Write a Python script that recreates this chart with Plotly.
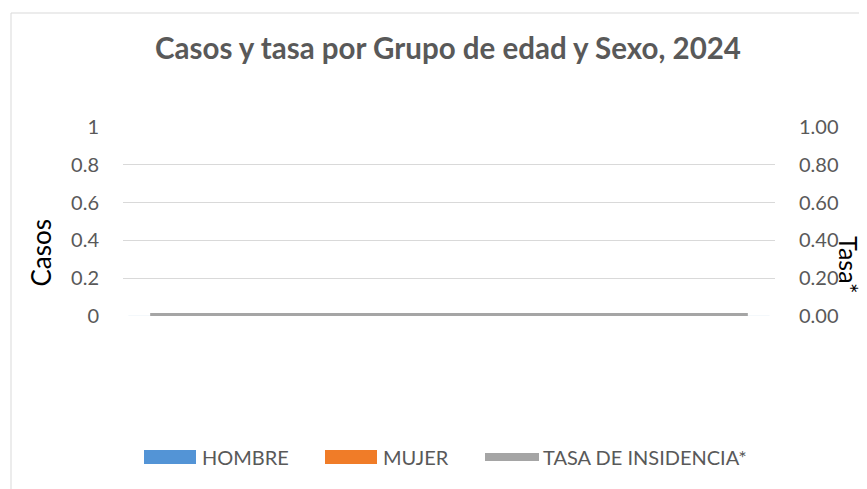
import plotly.graph_objects as go

categorias = ["<1", "1-4", "5-9", "10-14", "15-19", "20-24", "25-29",
              "30-39", "40-49", "50-59", "60-69", "70+"]
hombre = [0, 0, 0, 0, 0, 0, 0, 0, 0, 0, 0, 0]
mujer = [0, 0, 0, 0, 0, 0, 0, 0, 0, 0, 0, 0]
tasa = [0, 0, 0, 0, 0, 0, 0, 0, 0, 0, 0, 0]
ticks_casos = [0, 0.2, 0.4, 0.6, 0.8, 1]
ticks_casos_txt = ["0", "0.2", "0.4", "0.6", "0.8", "1"]
ticks_tasa = [0, 0.2, 0.4, 0.6, 0.8, 1.0]
ticks_tasa_txt = ["0.00", "0.20", "0.40", "0.60", "0.80", "1.00"]
series_nombres = ["HOMBRE", "MUJER", "TASA DE INSIDENCIA*"]

AZUL = "#5394D6"
NARANJA = "#F07C28"
GRIS = "#A5A5A5"
TXT = "#595959"
FONT = "Lato, Open Sans, sans-serif"

# the page adds an 8px body margin; work in page pixels and convert
OFF = 8
W, H = 867 - OFF, 489 - OFF
PL, PR, PT, PB = 123, 775, 127, 316          # plot area in page pixels
L, R, T, B = PL - OFF, W - (PR - OFF), PT - OFF, H - (PB - OFF)
pw, ph = W - L - R, H - T - B


def px_x(p):
    return (p - OFF - L) / pw


def px_y(p):
    return (H - B - (p - OFF)) / ph


fig = go.Figure()
fig.add_trace(go.Bar(x=categorias, y=hombre, name=series_nombres[0], marker_color=AZUL))
fig.add_trace(go.Bar(x=categorias, y=mujer, name=series_nombres[1], marker_color=NARANJA))
fig.add_trace(go.Scatter(x=categorias, y=tasa, name=series_nombres[2], yaxis="y2",
                         mode="lines", line=dict(color=GRIS, width=6), cliponaxis=False))

fig.update_layout(
    width=W, height=H,
    margin=dict(l=L, r=R, t=T, b=B, autoexpand=False),
    paper_bgcolor="white", plot_bgcolor="white",
    font=dict(family=FONT, color=TXT, size=16),
    title=dict(text="<b>Casos y tasa por Grupo de edad y Sexo, 2024</b>",
               x=px_x(448), xref="paper", xanchor="center",
               y=1 - (49 - OFF) / H, yanchor="middle",
               font=dict(size=29.5, color=TXT, family=FONT)),
    barmode="group",
    showlegend=False,
    xaxis=dict(showticklabels=False, showgrid=False, zeroline=False, showline=False,
               ticks=""),
    yaxis=dict(range=[0, 1], tickvals=ticks_casos, ticktext=ticks_casos_txt,
               showgrid=True, gridcolor="#D9D9D9", gridwidth=1, zeroline=False,
               showline=False, ticks="outside", ticklen=19, tickcolor="rgba(0,0,0,0)",
               tickfont=dict(size=20, color=TXT)),
    yaxis2=dict(range=[0, 1], overlaying="y", side="right", tickvals=ticks_tasa,
                ticktext=ticks_tasa_txt, showgrid=False, zeroline=False, showline=False,
                ticks="outside", ticklen=19, tickcolor="rgba(0,0,0,0)",
                tickfont=dict(size=20, color=TXT)),
)

# axis titles
fig.add_annotation(text="Casos", xref="paper", yref="paper", x=px_x(40.5), y=px_y(253),
                   textangle=-90, showarrow=False, font=dict(size=26, color="black"),
                   xanchor="center", yanchor="middle")
fig.add_annotation(text="Tasa*", xref="paper", yref="paper", x=px_x(849), y=px_y(265),
                   textangle=90, showarrow=False, font=dict(size=25, color="black"),
                   xanchor="center", yanchor="middle")

# legend (drawn to match the swatch sizes of the original)
ly = 457
fig.add_shape(type="rect", xref="paper", yref="paper", x0=px_x(144), x1=px_x(196),
              y0=px_y(464), y1=px_y(450), line=dict(width=0), fillcolor=AZUL)
fig.add_shape(type="rect", xref="paper", yref="paper", x0=px_x(325), x1=px_x(377),
              y0=px_y(464), y1=px_y(450), line=dict(width=0), fillcolor=NARANJA)
fig.add_shape(type="line", xref="paper", yref="paper", x0=px_x(485), x1=px_x(539),
              y0=px_y(ly), y1=px_y(ly), line=dict(width=8, color=GRIS))
for nombre, xt in zip(series_nombres, [200, 381, 541]):
    fig.add_annotation(text=nombre, xref="paper", yref="paper", x=px_x(xt), y=px_y(ly),
                       showarrow=False, xanchor="left", yanchor="middle",
                       font=dict(size=20, color=TXT))

# chart border
fig.add_shape(type="rect", xref="paper", yref="paper",
              x0=px_x(11), x1=px_x(900), y0=px_y(520), y1=px_y(13),
              line=dict(color="#D9D9D9", width=1), fillcolor="rgba(0,0,0,0)", layer="below")

fig.write_html("out.html")
